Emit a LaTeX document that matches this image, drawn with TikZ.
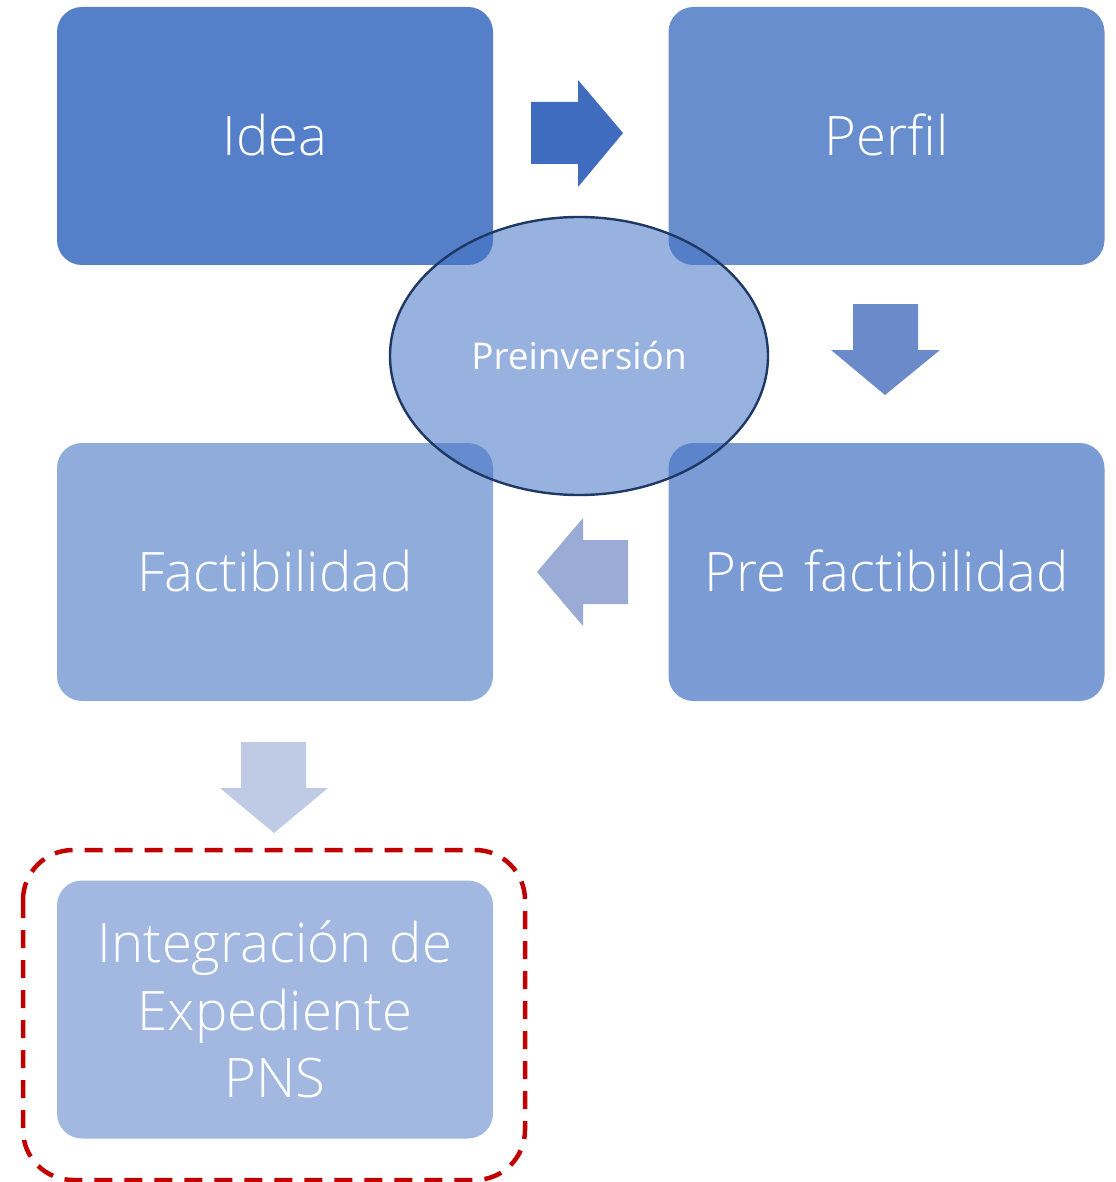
\documentclass[tikz,border=0pt]{standalone}
\usepackage{fontspec}
\setmainfont{Open Sans}[UprightFont=* Light]
\newfontfamily\regfont{Open Sans}
\usetikzlibrary{shapes.geometric}
\definecolor{cIdea}{HTML}{5580C9}
\definecolor{cPerfil}{HTML}{698ECE}
\definecolor{cPre}{HTML}{7B9BD4}
\definecolor{cFact}{HTML}{8FACDB}
\definecolor{cInt}{HTML}{A2B8E0}
\definecolor{cAccent}{HTML}{4472C4}
\definecolor{cNavy}{HTML}{1F3864}
\definecolor{cRed}{HTML}{C00000}
\definecolor{aOne}{HTML}{3F6CBF}
\definecolor{aTwo}{HTML}{6A8ACA}
\definecolor{aThree}{HTML}{9AABD6}
\definecolor{aFour}{HTML}{BFCAE4}
\tikzset{
  stage/.style={rounded corners=25*0.02cm, minimum width=436*0.02cm, minimum height=258*0.02cm,
    inner sep=0pt, text=white, font=\fontsize{31}{38.5}\selectfont, align=center, text width=420*0.02cm},
}
\begin{document}
\begin{tikzpicture}[x=0.02cm,y=-0.02cm]
\useasboundingbox (0,0) rectangle (1115,1182);
\node[stage, fill=cIdea] (idea) at (275,136) {\raisebox{2\dimexpr0.02cm\relax}{Idea}};
\node[stage, fill=cPerfil] (perfil) at (886.5,136) {\raisebox{2\dimexpr0.02cm\relax}{Perfil}};
\node[stage, fill=cFact] (fact) at (275,572) {\raisebox{2\dimexpr0.02cm\relax}{Factibilidad}};
\node[stage, fill=cPre] (pref) at (886.5,572) {\raisebox{2\dimexpr0.02cm\relax}{Pre factibilidad}};
\node[stage, fill=cInt] (integ) at (275,1009.5) {Integración de\\Expediente\\PNS};
% dashed frame
\draw[cRed, line width=3*0.02cm*1.5, dash pattern=on 18*0.02cm off 12*0.02cm, rounded corners=50*0.02cm]
  (23,850) rectangle (525,1180);
% block arrows
\fill[aOne] (531,102) -- (578,102) -- (578,80) -- (623,133) -- (578,187) -- (578,164) -- (531,164) -- cycle;
\fill[aTwo] (853,304) -- (918,304) -- (918,350) -- (940,350) -- (885,395) -- (831,350) -- (853,350) -- cycle;
\fill[aThree] (628,540) -- (583,540) -- (583,518) -- (537,572) -- (583,626) -- (583,604) -- (628,604) -- cycle;
\fill[aFour] (241,742) -- (306,742) -- (306,788) -- (328,788) -- (274,833) -- (220,788) -- (241,788) -- cycle;
% ellipse
\node[ellipse, draw=cNavy, line width=2*0.02cm*1.2, fill=cAccent, fill opacity=0.55, text opacity=1,
  minimum width=378*0.02cm, minimum height=278*0.02cm, inner sep=0pt, text=white,
  font=\regfont\fontsize{21}{25}\selectfont] (pre) at (579,356) {Preinversión};
\end{tikzpicture}
\end{document}
